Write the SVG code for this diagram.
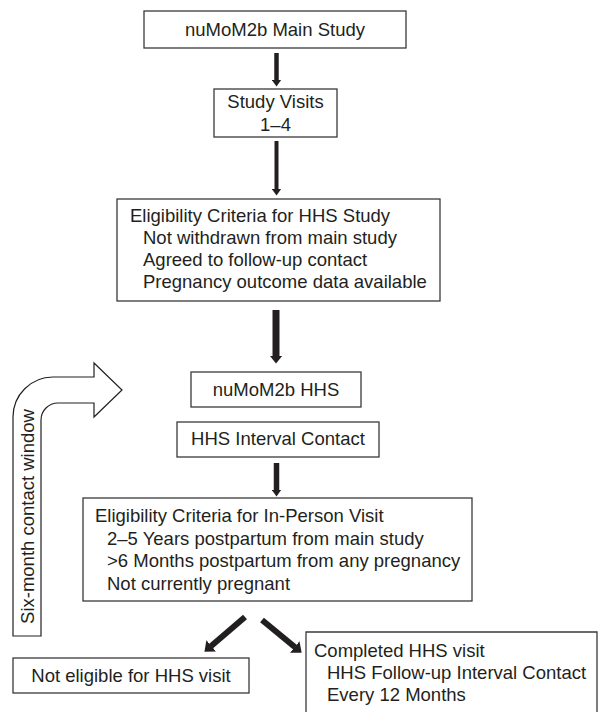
<svg xmlns="http://www.w3.org/2000/svg" width="599" height="712" viewBox="0 0 599 712">
<style>
.box{fill:#fff;stroke:#3a3a3a;stroke-width:1.3}
.t{font-family:"Liberation Sans",Arial,sans-serif;font-size:18.5px;fill:#231f20}
.c{text-anchor:middle}
.ar{stroke:#231f20;fill:none;stroke-linecap:butt}
</style>
<defs>
<marker id="hs" markerUnits="userSpaceOnUse" viewBox="0 0 7 10" markerWidth="7" markerHeight="10" refX="0.5" refY="5" orient="auto"><path d="M0,0 L7,5 L0,10 z" fill="#231f20"/></marker>
<marker id="hl" markerUnits="userSpaceOnUse" viewBox="0 0 8 13" markerWidth="8" markerHeight="13" refX="0.5" refY="6.5" orient="auto"><path d="M0,0 L8,6.5 L0,13 z" fill="#231f20"/></marker>
<marker id="hd" markerUnits="userSpaceOnUse" viewBox="0 0 9 15" markerWidth="9" markerHeight="15" refX="0.5" refY="7.5" orient="auto"><path d="M0,0 L9,7.5 L0,15 z" fill="#231f20"/></marker>
</defs>
<rect width="599" height="712" fill="#fff"/>
<g id="connectors">
<line class="ar" x1="276.5" y1="53" x2="276.5" y2="80" stroke-width="4.5" marker-end="url(#hs)"/>
<line class="ar" x1="276.5" y1="141" x2="276.5" y2="189" stroke-width="4" marker-end="url(#hs)"/>
<line class="ar" x1="276" y1="310" x2="276" y2="356" stroke-width="7" marker-end="url(#hl)"/>
<line class="ar" x1="276.5" y1="463" x2="276.5" y2="490" stroke-width="5.5" marker-end="url(#hs)"/>
<line class="ar" x1="245" y1="617" x2="210.9" y2="646.2" stroke-width="6" marker-end="url(#hd)"/>
<line class="ar" x1="262" y1="620" x2="295.1" y2="647.3" stroke-width="6" marker-end="url(#hd)"/>
</g>
<g id="window">
<path d="M13,636 L13,417 A40,40 0 0 1 53,377 L94,377 L94,363 L122,390 L94,417 L94,403 L58,403 A17,17 0 0 0 41,420 L41,636 Z" fill="#fff" stroke="#231f20" stroke-width="1.2"/>
<text class="t c" transform="translate(33.5,516.5) rotate(-90)">Six-month contact window</text>
</g>
<g id="main">
<rect class="box" x="144" y="11" width="262" height="37"/>
<text class="t c" x="275" y="35.5">nuMoM2b Main Study</text>
</g>
<g id="visits">
<rect class="box" x="214" y="89" width="123" height="48"/>
<text class="t c" x="275.5" y="108">Study Visits</text>
<text class="t c" x="275.5" y="131">1–4</text>
</g>
<g id="elig-hhs">
<rect class="box" x="117" y="199" width="323" height="102"/>
<text class="t" x="130" y="222">Eligibility Criteria for HHS Study</text>
<text class="t" x="143" y="244">Not withdrawn from main study</text>
<text class="t" x="143" y="266">Agreed to follow-up contact</text>
<text class="t" x="143" y="288">Pregnancy outcome data available</text>
</g>
<g id="hhs">
<rect class="box" x="191" y="372" width="170" height="35"/>
<text class="t c" x="276" y="395.5">nuMoM2b HHS</text>
</g>
<g id="interval">
<rect class="box" x="177" y="422" width="202" height="35"/>
<text class="t c" x="278" y="445">HHS Interval Contact</text>
</g>
<g id="elig-visit">
<rect class="box" x="83" y="498" width="389" height="103"/>
<text class="t" x="95" y="522">Eligibility Criteria for In-Person Visit</text>
<text class="t" x="107" y="544.5">2–5 Years postpartum from main study</text>
<text class="t" x="107" y="567">&gt;6 Months postpartum from any pregnancy</text>
<text class="t" x="107" y="589.5">Not currently pregnant</text>
</g>
<g id="not-eligible">
<rect class="box" x="13" y="658" width="236" height="35"/>
<text class="t c" x="131" y="682">Not eligible for HHS visit</text>
</g>
<g id="completed">
<path class="box" d="M306,720 L306,632 L597,632 L597,720" fill="#fff"/>
<text class="t" x="314" y="657">Completed HHS visit</text>
<text class="t" x="327" y="679">HHS Follow-up Interval Contact</text>
<text class="t" x="327" y="701">Every 12 Months</text>
</g>
</svg>
